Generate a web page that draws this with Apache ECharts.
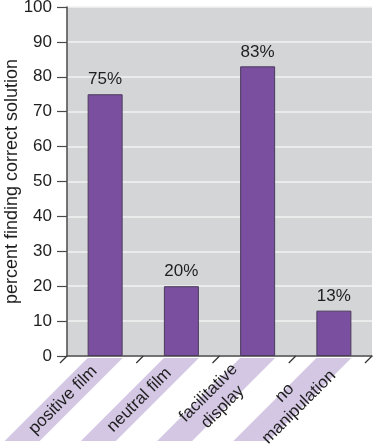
<!DOCTYPE html>
<html><head><meta charset="utf-8">
<script src="https://cdn.jsdelivr.net/npm/echarts@6/dist/echarts.min.js"></script>
<style>html,body{margin:0;padding:0;background:#fff}#c{width:375px;height:447px}</style>
</head><body><div id="c"></div>
<script>
const categories = ['positive film', 'neutral film', 'facilitative\ndisplay', 'no\nmanipulation'];
const values = [75, 20, 83, 13];
const yTicks = [0, 10, 20, 30, 40, 50, 60, 70, 80, 90, 100];
const yTitle = 'percent finding correct solution';

const FONT = '"Liberation Sans", Arial, Helvetica, sans-serif';
const chart = echarts.init(document.getElementById('c'), null, {renderer: 'canvas'});
const BARW = 35;

chart.setOption({
  animation: false,
  grid: {left: 67, right: 3, top: 7, bottom: 91, show: true, backgroundColor: '#d4d5d7', borderWidth: 0,
         containLabel: false, outerBoundsMode: 'none'},
  xAxis: {
    type: 'category', data: categories,
    axisLine: {show: true, lineStyle: {color: '#4a4a4a', width: 1.5}},
    axisTick: {show: false}, axisLabel: {show: false}, splitLine: {show: false}
  },
  yAxis: {
    type: 'value', min: yTicks[0], max: yTicks[yTicks.length - 1], interval: 10,
    name: yTitle, nameLocation: 'middle', nameGap: 46, nameMoveOverlap: false,
    nameTextStyle: {fontFamily: FONT, fontSize: 18, color: '#1e1e1e'},
    axisLine: {show: true, lineStyle: {color: '#4a4a4a', width: 1.5}},
    axisTick: {show: true, length: 10, lineStyle: {color: '#4a4a4a', width: 1.2}},
    axisLabel: {fontFamily: FONT, fontSize: 17, color: '#1e1e1e', margin: 15},
    splitLine: {show: true, lineStyle: {color: '#f2f2f2', width: 1.5}}
  },
  series: [
    {
      type: 'bar', data: values, barWidth: BARW,
      itemStyle: {color: '#7b4f9f', borderColor: '#4b3a5c', borderWidth: 1},
      label: {show: true, position: 'top', distance: 6, formatter: '{c}%', fontFamily: FONT, fontSize: 17, color: '#1e1e1e'},
      z: 3
    },
    {
      type: 'custom', clip: false, z: 5,
      data: categories.map((c, i) => [i, 0]),
      renderItem: function (params, api) {
        const i = api.value(0);
        const p = api.coord([i, 0]);
        const cw = api.size([1, 0])[0];
        const top = p[1] + 2, h = 83;
        const l = p[0] - BARW / 2, r = p[0] + BARW / 2;
        const children = [
          {type: 'polygon', shape: {points: [[l, top], [r, top], [r - h, top + h], [l - h, top + h]]},
           style: {fill: '#d3c7e3'}},
          {type: 'line', shape: {x1: p[0] - cw / 2, y1: p[1], x2: p[0] - cw / 2 - 7, y2: p[1] + 7},
           style: {stroke: '#333', lineWidth: 1.2}},
          {type: 'text', x: p[0] - 42, y: p[1] + 44, rotation: Math.PI / 4,
           style: {text: categories[i], fontFamily: FONT, fontSize: 17, fill: '#1e1e1e',
                   align: 'center', verticalAlign: 'middle', lineHeight: 20}}
        ];
        if (i === categories.length - 1) {
          children.push({type: 'line', shape: {x1: p[0] + cw / 2, y1: p[1], x2: p[0] + cw / 2 - 7, y2: p[1] + 7},
            style: {stroke: '#333', lineWidth: 1.2}});
        }
        return {type: 'group', children: children};
      }
    }
  ]
});
</script></body></html>
